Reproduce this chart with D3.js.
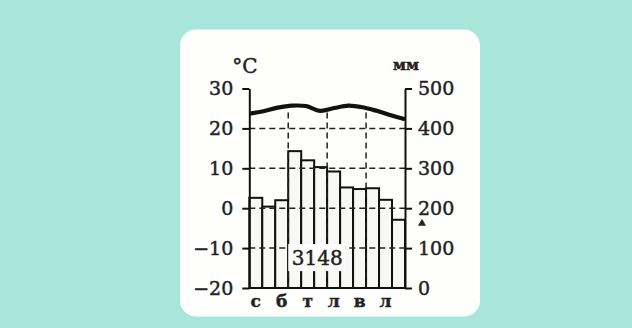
<!DOCTYPE html>
<html>
<head>
<meta charset="utf-8">
<script src="https://cdn.jsdelivr.net/npm/d3@7"></script>
<style>
  body { margin: 0; background: #a8e6dc; }
  text { font-family: "DejaVu Serif", "Liberation Serif", serif; fill: #222; stroke: #222; stroke-width: 0.45px; }
</style>
</head>
<body>
<svg id="chart" width="632" height="328"></svg>
<script>
// Climate diagram data (months: січень ... грудень)
const months = ["с", "л", "б", "к", "т", "ч", "л", "с", "в", "ж", "л", "г"];
const precipitation = [226, 204, 220, 343, 320, 303, 292, 252, 248, 250, 221, 171];
const temperature = [23.7, 24.3, 25.2, 25.7, 25.6, 24.4, 25.1, 25.7, 25.3, 24.4, 23.3, 22.3];
const tempTicks = [-20, -10, 0, 10, 20, 30];
const precipTicks = [0, 100, 200, 300, 400, 500];
const gridTemps = [-10, 0, 10, 20];
const annualTotal = "3148";

const plotLeft = 249.3, plotRight = 405, plotTop = 88.5, plotBottom = 288;

const svg = d3.select("#chart");

// Card
svg.append("rect")
    .attr("x", 180).attr("y", 29.5)
    .attr("width", 300).attr("height", 287)
    .attr("rx", 16)
    .attr("fill", "#fefefc");

// Scales
const x = d3.scaleBand().domain(d3.range(12)).range([plotLeft, plotRight]).padding(0);
const xLine = d3.scalePoint().domain(d3.range(12)).range([plotLeft, plotRight]);
const yT = d3.scaleLinear().domain([-20, 30]).range([plotBottom, plotTop]);
const yP = d3.scaleLinear().domain([0, 500]).range([plotBottom, plotTop]);

// Bars
svg.append("g").selectAll("rect")
    .data(precipitation)
    .join("rect")
    .attr("x", (d, i) => x(i))
    .attr("y", d => yP(d))
    .attr("width", x.bandwidth())
    .attr("height", d => yP(0) - yP(d))
    .attr("fill", "#f8f8f6")
    .attr("stroke", "#111")
    .attr("stroke-width", 2);

// Dashed grid
const grid = svg.append("g")
    .attr("stroke", "#222")
    .attr("stroke-width", 1.5)
    .attr("stroke-dasharray", "6,4");

grid.selectAll("line.h")
    .data(gridTemps)
    .join("line")
    .attr("class", "h")
    .attr("x1", plotLeft).attr("x2", plotRight)
    .attr("y1", d => yT(d)).attr("y2", d => yT(d));

grid.selectAll("line.v")
    .data([3, 6, 9])
    .join("line")
    .attr("class", "v")
    .attr("x1", d => x(d)).attr("x2", d => x(d))
    .attr("y1", yT(24)).attr("y2", plotBottom);

// Annual total box
const box = svg.append("g");
box.append("rect")
    .attr("x", x(3)).attr("y", yT(-9))
    .attr("width", 57).attr("height", 27)
    .attr("fill", "#fdfdfb");
box.append("text")
    .attr("x", x(3) + 29).attr("y", yT(-14.3))
    .attr("text-anchor", "middle")
    .style("font-size", "20px")
    .text(annualTotal);

// Temperature line
svg.append("path")
    .datum(temperature)
    .attr("fill", "none")
    .attr("stroke", "#111")
    .attr("stroke-width", 4.2)
    .attr("d", d3.line()
        .x((d, i) => xLine(i))
        .y(d => yT(d))
        .curve(d3.curveCatmullRom.alpha(0.5)));

// Axes
const axisLeft = svg.append("g")
    .attr("transform", `translate(${plotLeft},0)`)
    .call(d3.axisLeft(yT).tickValues(tempTicks).tickSize(7).tickSizeOuter(0).tickPadding(9));

const axisRight = svg.append("g")
    .attr("transform", `translate(${plotRight},0)`)
    .call(d3.axisRight(yP).tickValues(precipTicks).tickSize(7).tickSizeOuter(0).tickPadding(6));

[axisLeft, axisRight].forEach(a => {
    a.select(".domain").attr("stroke", "#111").attr("stroke-width", 2);
    a.selectAll(".tick line").attr("stroke", "#111").attr("stroke-width", 2);
    a.selectAll(".tick text")
        .attr("fill", "#222")
        .style("font-family", '"DejaVu Serif", serif')
        .style("font-size", "19px");
});
axisLeft.selectAll(".tick text").text(d => d < 0 ? "\u2212" + Math.abs(d) : d);

// Baseline
svg.append("line")
    .attr("x1", plotLeft).attr("x2", plotRight)
    .attr("y1", plotBottom).attr("y2", plotBottom)
    .attr("stroke", "#111").attr("stroke-width", 2);

// Month labels (every other month)
svg.append("g").selectAll("text")
    .data(months.map((m, i) => ({m, i})).filter(d => d.i % 2 === 0))
    .join("text")
    .attr("x", d => x(d.i) + x.bandwidth() / 2)
    .attr("y", 307)
    .attr("text-anchor", "middle")
    .style("font-size", "17px")
    .style("font-weight", "bold")
    .text(d => d.m);

// Units
svg.append("text")
    .attr("x", 245).attr("y", 73)
    .attr("text-anchor", "middle")
    .style("font-size", "20px")
    .text("°C");

svg.append("text")
    .attr("x", 406).attr("y", 70)
    .attr("text-anchor", "middle")
    .style("font-size", "15px")
    .style("font-weight", "bold")
    .text("мм");

// Small marker next to the right axis
svg.append("path")
    .attr("d", d3.symbol(d3.symbolTriangle).size(28))
    .attr("transform", `translate(${plotRight + 17},${yP(162)})`)
    .attr("fill", "#222");
</script>
</body>
</html>
